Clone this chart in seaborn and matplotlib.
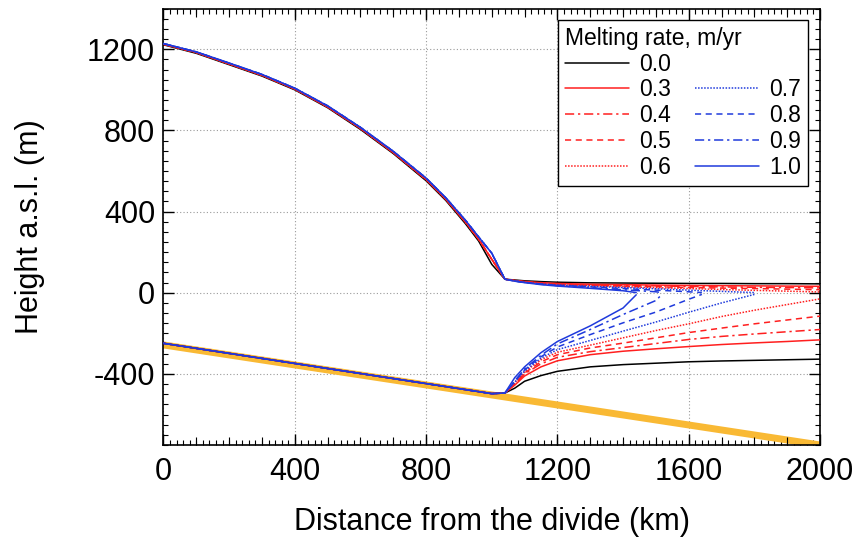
import matplotlib
matplotlib.use("Agg")
import matplotlib.pyplot as plt
import seaborn as sns
from matplotlib.lines import Line2D
from matplotlib.ticker import MultipleLocator

# ---------------- data ----------------
melt_labels = ["0.0", "0.3", "0.4", "0.5", "0.6", "0.7", "0.8", "0.9", "1.0"]

bed_x = [0, 2000]
bed_z = [-257, -750]

dist_grounded = [0, 100, 200, 300, 400, 500, 600, 700, 800, 860, 920, 960, 1000, 1040]
surf_grounded_black = [1222, 1180, 1124, 1068, 1000, 912, 805, 686, 552, 455, 340, 255, 140, 67]
surf_grounded_red = [1225, 1184, 1128, 1072, 1004, 916, 810, 691, 558, 461, 348, 264, 165, 67]
surf_grounded_blue = [1228, 1187, 1132, 1076, 1008, 921, 815, 697, 565, 468, 357, 275, 195, 67]
base_grounded_x = [0, 1000, 1040]
base_grounded = [-249, -497, -494]

shelf_x_full = [1040, 1070, 1100, 1150, 1200, 1300, 1400, 1500, 1600, 1700, 1800, 1900, 2000]

shelf_base_00 = [-494, -470, -436, -408, -387, -365, -354, -347, -340, -336, -333, -330, -327]
shelf_top_00 = [67, 63, 59, 55, 52, 49, 48, 47, 46, 46, 45, 45, 44]

shelf_base_03 = [-494, -455, -410, -365, -335, -305, -288, -276, -265, -255, -247, -240, -232]
shelf_top_03 = [67, 61, 56, 50, 46, 42, 40, 38, 36, 35, 34, 33, 32]

shelf_base_04 = [-494, -450, -400, -350, -318, -290, -270, -250, -230, -215, -203, -192, -181]
shelf_top_04 = [67, 60, 54, 47, 43, 39, 36, 34, 31, 29, 27, 26, 24]

shelf_base_05 = [-494, -447, -395, -340, -305, -272, -248, -222, -196, -174, -153, -134, -115]
shelf_top_05 = [67, 60, 53, 46, 41, 37, 33, 30, 26, 23, 21, 18, 15]

shelf_base_06 = [-494, -443, -390, -330, -293, -258, -222, -186, -153, -117, -86, -58, -30]
shelf_top_06 = [67, 59, 52, 45, 40, 35, 30, 25, 21, 16, 12, 8, 4]

shelf_x_07 = [1040, 1070, 1100, 1150, 1200, 1300, 1400, 1500, 1600, 1700, 1800]
shelf_base_07 = [-494, -440, -385, -322, -280, -235, -189, -144, -96, -50, -8]
shelf_top_07 = [67, 59, 52, 44, 38, 32, 26, 20, 13, 7, 1]

shelf_x_08 = [1040, 1070, 1100, 1150, 1200, 1300, 1400, 1500, 1600, 1640]
shelf_base_08 = [-494, -437, -380, -315, -267, -206, -148, -95, -32, -8]
shelf_top_08 = [67, 58, 51, 43, 37, 29, 21, 13, 5, 1]

shelf_x_09 = [1040, 1070, 1100, 1150, 1200, 1300, 1400, 1500, 1517]
shelf_base_09 = [-494, -434, -375, -308, -252, -181, -107, -38, -10]
shelf_top_09 = [67, 58, 51, 42, 35, 25, 15, 5, 1]

shelf_x_10 = [1040, 1070, 1100, 1150, 1200, 1300, 1400, 1440]
shelf_base_10 = [-494, -418, -365, -295, -240, -163, -75, -10]
shelf_top_10 = [67, 57, 50, 40, 33, 22, 10, 1]

# ---------------- styling ----------------
sns.set_theme(style="ticks")
plt.rcParams["font.family"] = ["Liberation Sans", "DejaVu Sans"]
plt.rcParams["axes.unicode_minus"] = False
plt.rcParams["text.color"] = "black"
plt.rcParams["axes.labelcolor"] = "black"
plt.rcParams["xtick.color"] = "black"
plt.rcParams["ytick.color"] = "black"
plt.rcParams["legend.labelcolor"] = "black"

BLACK = "#000000"
RED = "#ff1f1f"
BLUE = "#1f3adc"
BED = "#f9b934"

SOLID = "-"
DASHDOT = (0, (6, 2.5, 1.5, 2.5))
DASHED = (0, (4, 3))
DOTTED = (0, (1, 1))

series = [
    ("0.0", shelf_x_full, shelf_base_00, shelf_top_00, surf_grounded_black, BLACK, SOLID),
    ("0.3", shelf_x_full, shelf_base_03, shelf_top_03, surf_grounded_red, RED, SOLID),
    ("0.4", shelf_x_full, shelf_base_04, shelf_top_04, surf_grounded_red, RED, DASHDOT),
    ("0.5", shelf_x_full, shelf_base_05, shelf_top_05, surf_grounded_red, RED, DASHED),
    ("0.6", shelf_x_full, shelf_base_06, shelf_top_06, surf_grounded_red, RED, DOTTED),
    ("0.7", shelf_x_07, shelf_base_07, shelf_top_07, surf_grounded_blue, BLUE, DOTTED),
    ("0.8", shelf_x_08, shelf_base_08, shelf_top_08, surf_grounded_blue, BLUE, DASHED),
    ("0.9", shelf_x_09, shelf_base_09, shelf_top_09, surf_grounded_blue, BLUE, DASHDOT),
    ("1.0", shelf_x_10, shelf_base_10, shelf_top_10, surf_grounded_blue, BLUE, SOLID),
]

fig = plt.figure(figsize=(8.56, 5.42), dpi=100)
ax = fig.add_axes([0.191, 0.179, 0.767, 0.805])

# bed
sns.lineplot(x=bed_x, y=bed_z, ax=ax, color=BED, linewidth=5, sort=False,
             estimator=None, zorder=2, solid_capstyle="butt")

handles = {}
for lab, sx, sb, st, sg, col, ls in series:
    ux = dist_grounded + sx[1:]
    uy = sg + st[1:]
    lx = base_grounded_x + sx[1:]
    ly = base_grounded + sb[1:]
    sns.lineplot(x=ux, y=uy, ax=ax, color=col, linestyle=ls, linewidth=1.1,
                 sort=False, estimator=None, zorder=3)
    sns.lineplot(x=lx, y=ly, ax=ax, color=col, linestyle=ls, linewidth=1.1,
                 sort=False, estimator=None, zorder=3)
    handles[lab] = Line2D([], [], color=col, linestyle=ls, linewidth=1.1)

ax.set_xlim(0, 2000)
ax.set_ylim(-750, 1400)
ax.set_xticks([0, 400, 800, 1200, 1600, 2000])
ax.set_yticks([-400, 0, 400, 800, 1200])
ax.xaxis.set_minor_locator(MultipleLocator(20))
ax.yaxis.set_minor_locator(MultipleLocator(50))
ax.tick_params(which="both", direction="in", top=True, right=True, colors="black")
ax.tick_params(which="major", length=8, width=1, labelsize=22)
ax.tick_params(axis="x", which="major", pad=9)
ax.tick_params(axis="y", which="major", pad=6)
ax.tick_params(which="minor", length=3.5, width=0.8)
ax.grid(True, which="major", color="#9a9a9a", linestyle=(0, (1, 2)), linewidth=0.8)
for sp in ax.spines.values():
    sp.set_color("black")
    sp.set_linewidth(1.2)

ax.set_xlabel("Distance from the divide (km)", fontsize=22, labelpad=14, color="black")
ax.set_ylabel("Height a.s.l. (m)", fontsize=22, labelpad=30, color="black")

# medium ticks every 100 km
ax3 = fig.add_axes(ax.get_position(), frameon=False)
ax3.set_xlim(0, 2000)
ax3.set_xticks(list(range(100, 2000, 100)))
ax3.set_yticks([])
ax3.tick_params(axis="x", direction="in", length=6, width=0.8, top=True, bottom=True,
                labelbottom=False, labeltop=False, colors="black")
ax3.patch.set_visible(False)

blank = Line2D([], [], linestyle="none")
leg_handles = [handles["0.0"], handles["0.3"], handles["0.4"], handles["0.5"], handles["0.6"],
               blank, handles["0.7"], handles["0.8"], handles["0.9"], handles["1.0"]]
leg_labels = ["0.0", "0.3", "0.4", "0.5", "0.6", "", "0.7", "0.8", "0.9", "1.0"]
leg = ax3.legend(leg_handles, leg_labels, ncol=2, loc="upper right",
                 bbox_to_anchor=(0.982, 0.974), borderaxespad=0,
                 title="Melting rate, m/yr", title_fontsize=16.5, fontsize=16.5,
                 alignment="left", handlelength=2.8, handletextpad=0.45,
                 columnspacing=1.05, labelspacing=0.12, borderpad=0.3,
                 fancybox=False, framealpha=1, edgecolor="black", labelcolor="black")
leg.get_frame().set_linewidth(1.0)
leg.get_title().set_color("black")
leg.set_zorder(10)

fig.savefig("out.png", dpi=100)
